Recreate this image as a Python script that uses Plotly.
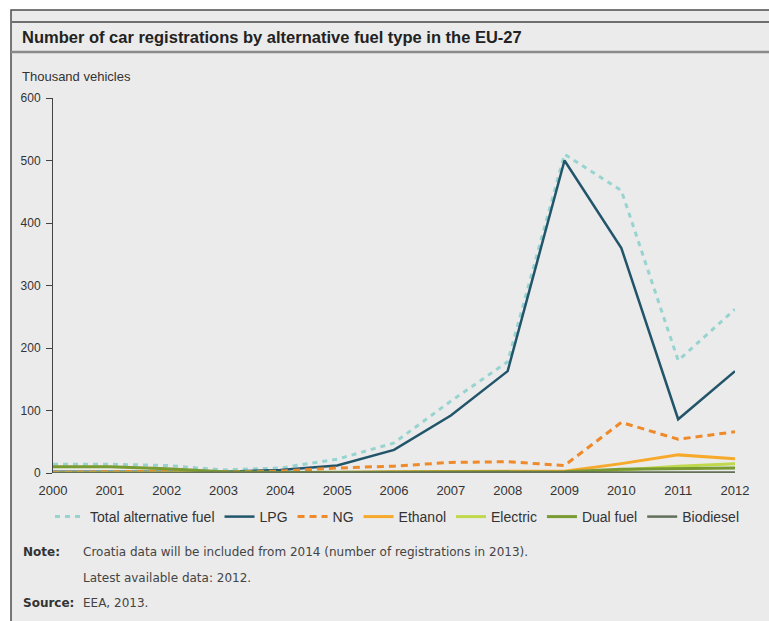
import plotly.graph_objects as go

years = list(range(2000, 2013))
year_labels = [str(y) for y in years]

total_alt = [14, 14, 12, 5, 8, 22, 48, 115, 178, 510, 452, 180, 262]
lpg = [2, 2, 3, 2, 5, 12, 37, 92, 163, 500, 360, 86, 163]
ng = [1, 2, 3, 2, 3, 8, 11, 17, 18, 12, 81, 54, 66]
ethanol = [0, 0, 0, 0, 0, 1, 2, 3, 3, 3, 15, 29, 23]
electric = [0, 0, 0, 0, 0, 0, 0, 0, 0, 1, 5, 11, 15]
dual_fuel = [10, 10, 7, 2, 1, 1, 1, 1, 1, 2, 6, 7, 8]
biodiesel = [0, 0, 0, 0, 0, 0, 0, 0, 0, 0, 1, 1, 1]

y_ticks = [0, 100, 200, 300, 400, 500, 600]

W, H = 769, 621
L, R, T, B = 53, 735, 98, 473


def px(x):
    return (x - L) / (R - L)


def py(y):
    return (B - y) / (B - T)


fig = go.Figure()

series = [
    ("Total alternative fuel", total_alt, "#97d4d0", "5px,5px", 3),
    ("LPG", lpg, "#22556a", "solid", 2.5),
    ("NG", ng, "#ee8a2a", "7px,5px", 3),
    ("Ethanol", ethanol, "#f6a92a", "solid", 3),
    ("Electric", electric, "#bfd84c", "solid", 3),
    ("Dual fuel", dual_fuel, "#7a9a32", "solid", 3),
    ("Biodiesel", biodiesel, "#62705a", "solid", 2.5),
]

for name, vals, color, dash, width in series:
    fig.add_trace(go.Scatter(
        x=years, y=vals, name=name, mode="lines",
        line=dict(color=color, dash=dash, width=width),
    ))

text_font = "Liberation Sans, Arial, sans-serif"
note_font = "DejaVu Sans, Verdana, sans-serif"

shapes = [
    dict(type="rect", xref="paper", yref="paper",
         x0=px(11), x1=px(800), y0=py(10), y1=py(700),
         fillcolor="#ebebeb", line=dict(color="#4d4d4d", width=1.5), layer="below"),
    dict(type="line", xref="paper", yref="paper",
         x0=px(11), x1=px(800), y0=py(22), y1=py(22),
         line=dict(color="#6f6f6f", width=2), layer="below"),
    dict(type="line", xref="paper", yref="paper",
         x0=px(11), x1=px(800), y0=py(52), y1=py(52),
         line=dict(color="#8a8a8a", width=2.5), layer="below"),
]

annotations = [
    dict(text="Number of car registrations by alternative fuel type in the EU-27",
         xref="paper", yref="paper", x=px(20), y=py(37), xanchor="left", yanchor="middle",
         showarrow=False, font=dict(family=text_font, size=16.5, color="#222222", weight="bold")),
    dict(text="Thousand vehicles", xref="paper", yref="paper", x=px(20), y=py(77),
         xanchor="left", yanchor="middle", showarrow=False,
         font=dict(family=text_font, size=13, color="#333333")),
    dict(text="<b>Note:</b>", xref="paper", yref="paper", x=px(21), y=py(552),
         xanchor="left", yanchor="middle", showarrow=False,
         font=dict(family=note_font, size=12, color="#333333")),
    dict(text="Croatia data will be included from 2014 (number of registrations in 2013).",
         xref="paper", yref="paper", x=px(81), y=py(552),
         xanchor="left", yanchor="middle", showarrow=False,
         font=dict(family=note_font, size=12, color="#444444")),
    dict(text="Latest available data: 2012.",
         xref="paper", yref="paper", x=px(81), y=py(578),
         xanchor="left", yanchor="middle", showarrow=False,
         font=dict(family=note_font, size=12, color="#444444")),
    dict(text="<b>Source:</b>", xref="paper", yref="paper", x=px(21), y=py(603),
         xanchor="left", yanchor="middle", showarrow=False,
         font=dict(family=note_font, size=12, color="#333333")),
    dict(text="EEA, 2013.", xref="paper", yref="paper", x=px(81), y=py(603),
         xanchor="left", yanchor="middle", showarrow=False,
         font=dict(family=note_font, size=12, color="#444444")),
]

fig.update_layout(
    width=W, height=H,
    margin=dict(l=L, r=W - R, t=T, b=H - B, pad=0),
    paper_bgcolor="white",
    plot_bgcolor="rgba(0,0,0,0)",
    font=dict(family=text_font, size=12, color="#333333"),
    shapes=shapes,
    annotations=annotations,
    showlegend=True,
    legend=dict(orientation="h", x=px(50), y=py(517), xanchor="left", yanchor="middle",
                font=dict(family=text_font, size=14, color="#333333"),
                bgcolor="rgba(0,0,0,0)", itemwidth=30, tracegroupgap=0),
    xaxis=dict(range=[2000, 2012], tickvals=years, ticktext=year_labels,
               showgrid=False, zeroline=False, showline=False,
               ticks="", ticklabelstandoff=8,
               tickfont=dict(family=text_font, size=13, color="#333333")),
    yaxis=dict(range=[0, 600], tickvals=y_ticks, ticktext=[str(v) for v in y_ticks],
               showgrid=False, zeroline=False, showline=True, linecolor="#444444", linewidth=1,
               ticks="outside", ticklen=6, tickcolor="#444444", ticklabelstandoff=3,
               tickfont=dict(family=text_font, size=12, color="#333333")),
)

fig.write_html(
    "out.html",
    config={"displayModeBar": False},
    post_script="document.body.style.margin='0';document.body.style.overflow='hidden';",
)
